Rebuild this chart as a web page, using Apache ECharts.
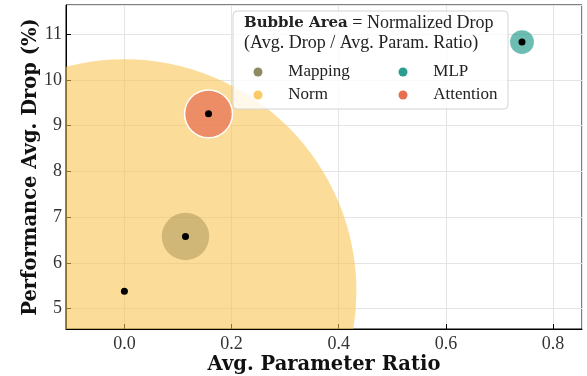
<!DOCTYPE html>
<html><head><meta charset="utf-8">
<script src="https://cdn.jsdelivr.net/npm/echarts@6/dist/echarts.min.js"></script>
<style>html,body{margin:0;padding:0;background:#fff}#c{width:587px;height:376px}</style>
</head><body><div id="c"></div>
<script>
// ---- data ----
const categories = ['Mapping', 'Norm', 'MLP', 'Attention'];
const paramRatio = [0.114, 0.0, 0.742, 0.157];      // x
const avgDrop = [6.58, 5.38, 10.83, 9.26];          // y (%)
const normalizedDrop = [57.7, 5530, 14.6, 59.0];    // bubble area
const xTickLabels = ['0.0', '0.2', '0.4', '0.6', '0.8'];
const yTickLabels = ['5', '6', '7', '8', '9', '10', '11'];

// ---- styles ----
const legendColor = { Mapping: '#8f8a62', Norm: '#fbca66', MLP: '#2a9d8f', Attention: '#e76f51' };
const bubbleFill = {
  Mapping: 'rgba(163,146,88,0.5)', Norm: 'rgba(249,195,79,0.58)',
  MLP: 'rgba(42,157,143,0.68)', Attention: 'rgba(231,111,81,0.72)'
};
const bubbleEdge = { Attention: '#ffffff' };
const SIZE_K = 3.12; // px radius per sqrt(unit area)
const serif = 'Liberation Serif';
const boldSerif = 'DejaVu Serif';

// draw order: biggest first
const order = categories.map((c, i) => i).sort((a, b) => normalizedDrop[b] - normalizedDrop[a]);

const bubbleSeries = order.map(i => {
  const name = categories[i];
  return {
    type: 'custom', name, coordinateSystem: 'cartesian2d', clip: true, silent: true, z: 2,
    itemStyle: { color: legendColor[name] },
    data: [[paramRatio[i], avgDrop[i], normalizedDrop[i]]],
    renderItem: (params, api) => {
      const c = api.coord([api.value(0), api.value(1)]);
      const r = SIZE_K * Math.sqrt(api.value(2));
      return {
        type: 'circle', shape: { cx: c[0], cy: c[1], r },
        style: { fill: bubbleFill[name], stroke: bubbleEdge[name] || null, lineWidth: bubbleEdge[name] ? 1.5 : 0 }
      };
    }
  };
});

const centerSeries = {
  type: 'scatter', name: '_centers', silent: true, z: 4,
  symbolSize: 7, itemStyle: { color: '#000', opacity: 1 },
  data: categories.map((c, i) => [paramRatio[i], avgDrop[i]])
};

function onStep(v, step) { return Math.abs(v / step - Math.round(v / step)) < 1e-6; }

const legendCommon = {
  orient: 'vertical', icon: 'circle', itemWidth: 50.6, itemHeight: 9, itemGap: 6, padding: 0,
  selectedMode: false, z: 10,
  textStyle: { fontFamily: serif, fontSize: 17, color: '#222' }
};
const legendItem = n => ({ name: n, itemStyle: { color: legendColor[n], opacity: 1 } });

const chart = echarts.init(document.getElementById('c'), null, { renderer: 'canvas' });
chart.setOption({
  animation: false,
  backgroundColor: '#fff',
  grid: { left: 66, right: 5, top: 5, bottom: 47, show: true, borderColor: '#000', borderWidth: 1,
          backgroundColor: 'transparent', outerBoundsMode: 'none', containLabel: false },
  xAxis: {
    type: 'value', min: -0.109, max: 0.854, splitNumber: 5,
    axisLine: { show: true, onZero: false, lineStyle: { color: '#000', width: 1 } },
    axisTick: { show: true, inside: true, length: 5, lineStyle: { color: '#000' } },
    axisLabel: {
      showMinLabel: false, showMaxLabel: false, margin: 6,
      fontFamily: serif, fontSize: 18, color: '#333',
      formatter: v => onStep(v, 0.2) ? (xTickLabels.find(t => Math.abs(parseFloat(t) - v) < 1e-6) || '') : ''
    },
    splitLine: { show: true, lineStyle: { color: '#e4e4e4', width: 1 } },
    name: 'Avg. Parameter Ratio', nameLocation: 'middle', nameGap: 26, nameMoveOverlap: false,
    nameTextStyle: { fontFamily: boldSerif, fontWeight: 'bold', fontSize: 19.5, color: '#111' }
  },
  yAxis: {
    type: 'value', min: 4.556, max: 11.64, splitNumber: 7,
    axisLine: { show: true, onZero: false, lineStyle: { color: '#000', width: 1 } },
    axisTick: { show: true, inside: true, length: 5, lineStyle: { color: '#000' } },
    axisLabel: {
      showMinLabel: false, showMaxLabel: false, margin: 4,
      fontFamily: serif, fontSize: 18, color: '#333',
      formatter: v => onStep(v, 1) ? (yTickLabels.find(t => Math.abs(parseFloat(t) - v) < 1e-6) || '') : ''
    },
    splitLine: { show: true, lineStyle: { color: '#e4e4e4', width: 1 } },
    name: 'Performance Avg. Drop (%)', nameLocation: 'middle', nameGap: 25, nameRotate: 90, nameMoveOverlap: false,
    nameTextStyle: { fontFamily: boldSerif, fontWeight: 'bold', fontSize: 19.5, color: '#111' }
  },
  legend: [
    Object.assign({}, legendCommon, { left: 253.5, top: 63.5, data: [legendItem('Mapping'), legendItem('Norm')] }),
    Object.assign({}, legendCommon, { left: 398.5, top: 63.5, data: [legendItem('MLP'), legendItem('Attention')] })
  ],
  graphic: [
    { type: 'rect', z: 8, silent: true, shape: { x: 233, y: 11, width: 275, height: 98, r: 4 },
      style: { fill: 'rgba(255,255,255,0.8)', stroke: '#d4d4d4', lineWidth: 1 } },
    { type: 'text', z: 9, silent: true, x: 244, y: 23.5,
      style: { text: '{b|Bubble Area}{n| = Normalized Drop}', verticalAlign: 'middle', fill: '#222',
        rich: { b: { fontFamily: boldSerif, fontWeight: 'bold', fontSize: 15, fill: '#222' },
                n: { fontFamily: serif, fontSize: 18, fill: '#222' } } } },
    { type: 'text', z: 9, silent: true, x: 244, y: 43,
      style: { text: '(Avg. Drop / Avg. Param. Ratio)', fontFamily: serif, fontSize: 18, verticalAlign: 'middle', fill: '#222' } }
  ],
  series: bubbleSeries.concat([centerSeries])
});
</script></body></html>
